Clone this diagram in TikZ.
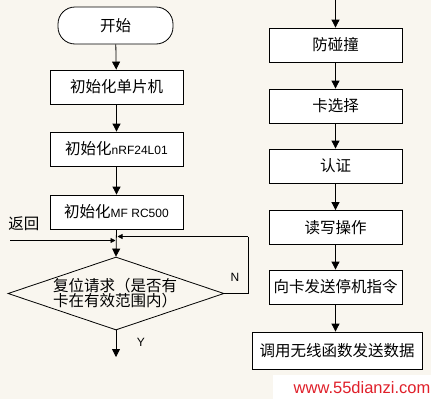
\documentclass[tikz,border=0pt]{standalone}
\usepackage{fontspec}
\usetikzlibrary{shapes.geometric,arrows.meta}
\newfontfamily\cjk{Noto Sans CJK SC}
\newfontfamily\lat{Liberation Sans}
\definecolor{bgc}{HTML}{F9F6EF}
\definecolor{wmred}{HTML}{E0202A}
\begin{document}
\begin{tikzpicture}[x=1pt,y=-1pt,
  every node/.style={font=\cjk\fontsize{15.5}{16}\selectfont, text=black},
  procbox/.style={draw=black, fill=white, line width=0.8pt, minimum width=133pt, minimum height=34pt, inner sep=0pt},
  termbox/.style={draw=black, fill=white, line width=0.8pt, rounded corners=17pt, minimum width=115pt, minimum height=37pt, inner sep=0pt},
  decbox/.style={draw=black, diamond, line width=0.8pt, minimum width=216pt, minimum height=73pt, inner sep=0pt},
  flow/.style={draw=black, line width=0.8pt, -{Triangle[width=8pt,length=8pt]}},
  smallflow/.style={draw=black, line width=0.8pt, -{Triangle[width=5pt,length=5pt]}},
  plain/.style={draw=black, line width=0.8pt},
  lbl/.style={font=\lat\fontsize{12}{14}\selectfont}
]
\useasboundingbox[fill=bgc] (0,0) rectangle (431,399);

% left column
\node[termbox] (start) at (115.5,25.5) {开始};
\node[procbox] (b1) at (116.5,87) {初始化单片机};
\node[procbox] (b2) at (116.5,149) {初始化{\lat\fontsize{12}{14}\selectfont nRF24L01}};
\node[procbox] (b3) at (116.5,212) {初始化{\lat\fontsize{12}{14}\selectfont MF RC500}};
\node[decbox] (dec) at (116,293.5) {};
\node[align=left, font=\cjk\fontsize{15.5}{15.5}\selectfont] (dectext) at (115,293) {复位请求（是否有\\卡在有效范围内）};

\draw[flow] (start) -- (b1);
\draw[flow] (b1) -- (b2);
\draw[flow] (b2) -- (b3);
\draw[flow] (b3.south) -- (dec.north);

\coordinate (ret) at (10,240.5);
\coordinate (retend) at (115.5,240.5);
\draw[smallflow] (ret) -- (retend);
\node (retlbl) at (24,224) {返回};

\coordinate (loopa) at (248,293.5);
\coordinate (loopb) at (248,236.5);
\coordinate (loopc) at (117.5,236.5);
\draw[plain] (dec.east) -- (loopa) -- (loopb);
\draw[smallflow] (loopb) -- (loopc);
\node[lbl] (nlbl) at (235,277) {N};

\coordinate (yend) at (116,357);
\draw[flow] (dec.south) -- (yend);
\node[lbl] (ylbl) at (141,342) {Y};

% right column
\coordinate (rtop) at (335.5,0);
\node[procbox] (r1) at (335.5,45) {防碰撞};
\node[procbox] (r2) at (335.5,106) {卡选择};
\node[procbox] (r3) at (335.5,166) {认证};
\node[procbox] (r4) at (335.5,227.5) {读写操作};
\node[procbox] (r5) at (335.5,287) {向卡发送停机指令};
\node[procbox, minimum width=170pt, minimum height=37pt] (r6) at (337,350.5) {调用无线函数发送数据};

\draw[flow] (rtop) -- (r1);
\draw[flow] (r1) -- (r2);
\draw[flow] (r2) -- (r3);
\draw[flow] (r3) -- (r4);
\draw[flow] (r4) -- (r5);
\draw[flow] (r5.south) -- (r5.south |- r6.north);

% watermark
\fill[white] (273,375) rectangle (431,399);
\node[font=\lat\fontsize{16.5}{18}\selectfont, text=wmred] (wm) at (362,388) {www.55dianzi.com};
\end{tikzpicture}
\end{document}
